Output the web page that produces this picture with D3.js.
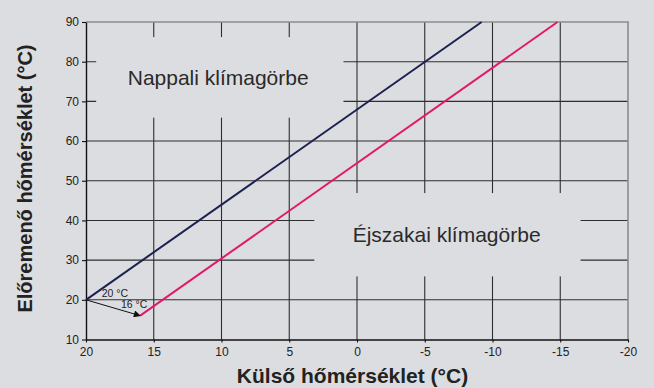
<!DOCTYPE html>
<html>
<head>
<meta charset="utf-8">
<script src="https://cdn.jsdelivr.net/npm/d3@7"></script>
<style>
  html, body { margin: 0; padding: 0; background: #dcdde0; }
  svg { display: block; font-family: "Liberation Sans", Arial, sans-serif; }
</style>
</head>
<body>
<svg id="chart" width="654" height="388"></svg>
<script>
// Outdoor temperature axis (reversed, warm on the left)
const xTicks = [20, 15, 10, 5, 0, -5, -10, -15, -20];
const xTickLabels = ["20", "15", "10", "5", "0", "-5", "-10", "-15", "-20"];
// Flow temperature axis
const yTicks = [10, 20, 30, 40, 50, 60, 70, 80, 90];
const yTickLabels = ["10", "20", "30", "40", "50", "60", "70", "80", "90"];

// Heating curves: [outdoor °C, flow °C]
const dayCurve = [[20, 20], [-9.2, 90]];
const nightCurve = [[16, 16], [-14.8, 90]];
// Set-back arrow from day to night room temperature
const setback = [[20, 20], [16, 16]];
const setbackLabels = [{ x: 18.84, y: 20.8, text: "20 °C" }, { x: 17.42, y: 17.86, text: "16 °C" }];

// Curve names and the clear panels behind them (in data units)
const curveNames = [
  { text: "Nappali klímagörbe", x: 16.92, y: 74.1, box: [19.25, 86.2, 1.0, 65.9] },
  { text: "Éjszakai klímagörbe", x: 0.32, y: 34.6, box: [3.15, 46.9, -16.5, 25.9] }
];

const xTitle = "Külső hőmérséklet (°C)";
const yTitle = "Előremenő hőmérséklet (°C)";

const W = 654, H = 388;
const bg = "#dcdde0";
const x = d3.scaleLinear().domain([20, -20]).range([86, 628]);
const y = d3.scaleLinear().domain([10, 90]).range([339.5, 22]);

const svg = d3.select("#chart");
svg.append("rect").attr("width", W).attr("height", H).attr("fill", bg);

// Grid
const grid = svg.append("g");
grid.selectAll("line.v").data(xTicks.slice(1, -1)).join("line")
  .attr("x1", d => x(d)).attr("x2", d => x(d))
  .attr("y1", y(90)).attr("y2", y(10))
  .attr("stroke", "#2e2e2e").attr("stroke-width", 1.1);
grid.selectAll("line.h").data(yTicks.slice(1, -1)).join("line")
  .attr("x1", x(20)).attr("x2", x(-20))
  .attr("y1", d => y(d)).attr("y2", d => y(d))
  .attr("stroke", "#2e2e2e").attr("stroke-width", 1.1);

// Top and right frame
svg.append("path")
  .attr("d", `M${x(20)},${y(90)}H${x(-20)}V${y(10)}`)
  .attr("fill", "none").attr("stroke", "#8c8c8c").attr("stroke-width", 1.6);

// Clear panels for the curve names
svg.selectAll("rect.panel").data(curveNames).join("rect")
  .attr("x", d => x(d.box[0])).attr("y", d => y(d.box[1]))
  .attr("width", d => x(d.box[2]) - x(d.box[0]))
  .attr("height", d => y(d.box[3]) - y(d.box[1]))
  .attr("fill", bg);

// Axes
const yAxis = d3.axisLeft(y).tickValues(yTicks).tickFormat((d, i) => yTickLabels[i])
  .tickSize(4).tickSizeOuter(0).tickPadding(3);
const xAxis = d3.axisBottom(x).tickValues(xTicks).tickFormat((d, i) => xTickLabels[i])
  .tickSize(3).tickSizeOuter(0).tickPadding(5);

const gy = svg.append("g").attr("transform", `translate(${x(20)},0)`).call(yAxis);
const gx = svg.append("g").attr("transform", `translate(0,${y(10)})`).call(xAxis);
[gx, gy].forEach(g => {
  g.select(".domain").attr("stroke", "#111").attr("stroke-width", 1.4);
  g.selectAll(".tick line").attr("stroke", "#111").attr("stroke-width", 1.1);
  g.selectAll(".tick text").attr("fill", "#222").attr("font-size", 12)
    .attr("font-family", "Liberation Sans, Arial, sans-serif");
});

// Curves
const line = d3.line().x(d => x(d[0])).y(d => y(d[1]));
svg.append("path").datum(dayCurve).attr("d", line)
  .attr("fill", "none").attr("stroke", "#1b2150").attr("stroke-width", 2);
svg.append("path").datum(nightCurve).attr("d", line)
  .attr("fill", "none").attr("stroke", "#e2186a").attr("stroke-width", 2);

// Set-back arrow
svg.append("defs").append("marker")
  .attr("id", "arrow").attr("viewBox", "0 0 10 10")
  .attr("refX", 9).attr("refY", 5)
  .attr("markerWidth", 9).attr("markerHeight", 7)
  .attr("markerUnits", "userSpaceOnUse")
  .attr("orient", "auto")
  .append("path").attr("d", "M0,0L10,5L0,10Z").attr("fill", "#111");
svg.append("path").datum(setback).attr("d", line)
  .attr("fill", "none").attr("stroke", "#111").attr("stroke-width", 1)
  .attr("marker-end", "url(#arrow)");
svg.selectAll("text.sb").data(setbackLabels).join("text")
  .attr("x", d => x(d.x)).attr("y", d => y(d.y))
  .attr("font-size", 10.5).attr("fill", "#222").text(d => d.text);

// Curve names
svg.selectAll("text.name").data(curveNames).join("text")
  .attr("x", d => x(d.x)).attr("y", d => y(d.y))
  .attr("font-size", 21).attr("fill", "#2a2a2a").text(d => d.text);

// Axis titles
svg.append("text").attr("x", 352.5).attr("y", 383)
  .attr("text-anchor", "middle").attr("font-size", 21).attr("font-weight", "bold")
  .attr("fill", "#222").text(xTitle);
svg.append("text")
  .attr("transform", "translate(31.5,178.5) rotate(-90)")
  .attr("text-anchor", "middle").attr("font-size", 20).attr("font-weight", "bold")
  .attr("fill", "#222").text(yTitle);
</script>
</body>
</html>
